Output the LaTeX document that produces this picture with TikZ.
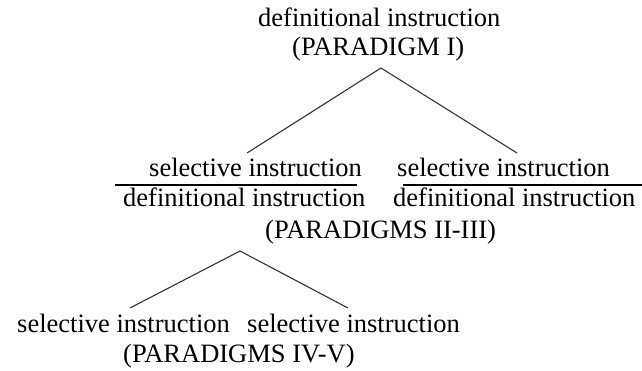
\documentclass[tikz,border=0pt]{standalone}
\usepackage{fontspec}
\setmainfont{Liberation Serif}
\begin{document}
\begin{tikzpicture}[x=1pt,y=-1pt,
  txt/.style={inner sep=0pt, anchor=base west, font=\fontsize{26.5}{30}\selectfont},
  branch/.style={draw=black!80, line width=1.1pt},
  fracbar/.style={draw=black, line width=2pt}]
\useasboundingbox (0,0) rectangle (642,371);

% labels
\node[txt] (top1) at (258,27)  {definitional instruction};
\node[txt] (top2) at (292,56)  {(PARADIGM I)};
\node[txt] (ln)   at (149,177) {selective instruction};
\node[txt] (rn)   at (397,177) {selective instruction};
\node[txt] (ld)   at (123,207) {definitional instruction};
\node[txt] (rd)   at (393,207) {definitional instruction};
\node[txt] (mid)  at (265,239) {(PARADIGMS II-III)};
\node[txt] (bl)   at (17,332)  {selective instruction};
\node[txt] (br)   at (247,332) {selective instruction};
\node[txt] (bot)  at (123,362) {(PARADIGMS IV-V)};

% branch points and ends
\coordinate (apexA) at (381,68);
\coordinate (endAl) at (247,153);
\coordinate (endAr) at (517,153);
\coordinate (apexB) at (240,251);
\coordinate (endBl) at (130,308);
\coordinate (endBr) at (348,308);

% fraction bars
\coordinate (barLa) at (115,185);
\coordinate (barLb) at (357,185);
\coordinate (barRa) at (403,185);
\coordinate (barRb) at (642,185);

\draw[branch] (endAl) -- (apexA) -- (endAr);
\draw[branch] (endBl) -- (apexB) -- (endBr);
\draw[fracbar] (barLa) -- (barLb);
\draw[fracbar] (barRa) -- (barRb);
\end{tikzpicture}
\end{document}
